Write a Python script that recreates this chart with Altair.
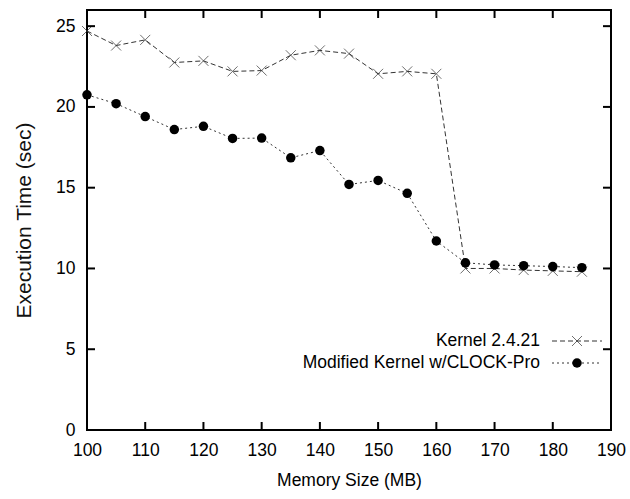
import altair as alt
import pandas as pd

memory = [100, 105, 110, 115, 120, 125, 130, 135, 140, 145, 150, 155, 160, 165, 170, 175, 180, 185]
kernel = [24.7, 23.8, 24.15, 22.75, 22.85, 22.2, 22.25, 23.2, 23.5, 23.3, 22.05, 22.2, 22.05, 10.0, 10.0, 9.9, 9.85, 9.8]
clockpro = [20.75, 20.2, 19.4, 18.6, 18.8, 18.05, 18.07, 16.85, 17.3, 15.2, 15.45, 14.65, 11.7, 10.35, 10.22, 10.17, 10.12, 10.05]

series_names = ["Kernel 2.4.21", "Modified Kernel w/CLOCK-Pro"]
x_ticks = [100, 110, 120, 130, 140, 150, 160, 170, 180, 190]
y_ticks = [0, 5, 10, 15, 20, 25]

W, H = 524, 420
FONT = "Liberation Sans"
FS = 17.5

df_k = pd.DataFrame({"x": memory, "y": kernel})
df_c = pd.DataFrame({"x": memory, "y": clockpro})

xs = alt.Scale(domain=[100, 190], nice=False, zero=False)
ys = alt.Scale(domain=[0, 26], nice=False)

xax = alt.Axis(values=x_ticks, tickSize=0, labelPadding=11, domain=False, grid=False, labelFlush=False,
               title="Memory Size (MB)", titlePadding=13, labelFontSize=FS, titleFontSize=FS,
               labelFont=FONT, titleFont=FONT, labelColor="black", titleColor="black", titleFontWeight="normal")
yax = alt.Axis(values=y_ticks, tickSize=0, labelPadding=12, domain=False, grid=False, labelFlush=False,
               title="Execution Time (sec)", titlePadding=21, labelFontSize=FS, titleFontSize=21,
               labelFont=FONT, titleFont=FONT, labelColor="black", titleColor="#111111", titleFontWeight="normal")

xpath = "M-1,-1L1,1M-1,1L1,-1"

k_line = alt.Chart(df_k).mark_line(color="#333333", strokeWidth=1, strokeDash=[5, 3]).encode(
    x=alt.X("x:Q", scale=xs, axis=xax), y=alt.Y("y:Q", scale=ys, axis=yax))
k_pts = alt.Chart(df_k).mark_point(shape=xpath, size=100, color="#333333", strokeWidth=1, filled=False).encode(
    x=alt.X("x:Q", scale=xs), y=alt.Y("y:Q", scale=ys))
c_line = alt.Chart(df_c).mark_line(color="#333333", strokeWidth=1, strokeDash=[2, 3]).encode(
    x=alt.X("x:Q", scale=xs), y=alt.Y("y:Q", scale=ys))
c_pts = alt.Chart(df_c).mark_point(shape="circle", size=90, color="black", filled=True, opacity=1).encode(
    x=alt.X("x:Q", scale=xs), y=alt.Y("y:Q", scale=ys))

# inward ticks
inner_x = pd.DataFrame({"x": x_ticks[1:-1]})
inner_y = pd.DataFrame({"y": y_ticks[1:]})
tick_bottom = alt.Chart(inner_x).mark_rule(color="black", strokeWidth=2).encode(
    x=alt.X("x:Q", scale=xs), y=alt.value(H), y2=alt.value(H - 8))
tick_top = alt.Chart(inner_x).mark_rule(color="black", strokeWidth=2).encode(
    x=alt.X("x:Q", scale=xs), y=alt.value(0), y2=alt.value(8))
tick_left = alt.Chart(inner_y).mark_rule(color="black", strokeWidth=2).encode(
    y=alt.Y("y:Q", scale=ys), x=alt.value(0), x2=alt.value(8))
tick_right = alt.Chart(inner_y).mark_rule(color="black", strokeWidth=2).encode(
    y=alt.Y("y:Q", scale=ys), x=alt.value(W), x2=alt.value(W - 8))

# legend
leg = pd.DataFrame({"name": series_names})
leg_k_text = alt.Chart(leg.iloc[[0]]).mark_text(align="right", baseline="middle", fontSize=FS, font=FONT, color="black").encode(
    text="name:N", x=alt.value(453), y=alt.value(331))
leg_c_text = alt.Chart(leg.iloc[[1]]).mark_text(align="right", baseline="middle", fontSize=FS, font=FONT, color="black").encode(
    text="name:N", x=alt.value(453), y=alt.value(353))
leg_k_line = alt.Chart(leg.iloc[[0]]).mark_rule(color="#333333", strokeWidth=1, strokeDash=[5, 3]).encode(
    x=alt.value(465), x2=alt.value(515), y=alt.value(331))
leg_c_line = alt.Chart(leg.iloc[[1]]).mark_rule(color="#333333", strokeWidth=1, strokeDash=[2, 3]).encode(
    x=alt.value(465), x2=alt.value(515), y=alt.value(353))
leg_k_pt = alt.Chart(leg.iloc[[0]]).mark_point(shape=xpath, size=100, color="#333333", strokeWidth=1, filled=False).encode(
    x=alt.value(490), y=alt.value(331))
leg_c_pt = alt.Chart(leg.iloc[[1]]).mark_point(shape="circle", size=90, color="black", filled=True, opacity=1).encode(
    x=alt.value(490), y=alt.value(353))

chart = alt.layer(
    k_line, c_line, k_pts, c_pts,
    tick_bottom, tick_top, tick_left, tick_right,
    leg_k_text, leg_c_text, leg_k_line, leg_c_line, leg_k_pt, leg_c_pt,
).properties(
    width=W, height=H,
    autosize=alt.AutoSizeParams(type="none"),
    padding={"left": 87, "top": 10, "right": 19, "bottom": 69},
    background="white",
).configure_view(stroke="black", strokeWidth=2)

chart.save("out.html", embed_options={"renderer": "svg", "actions": False})
